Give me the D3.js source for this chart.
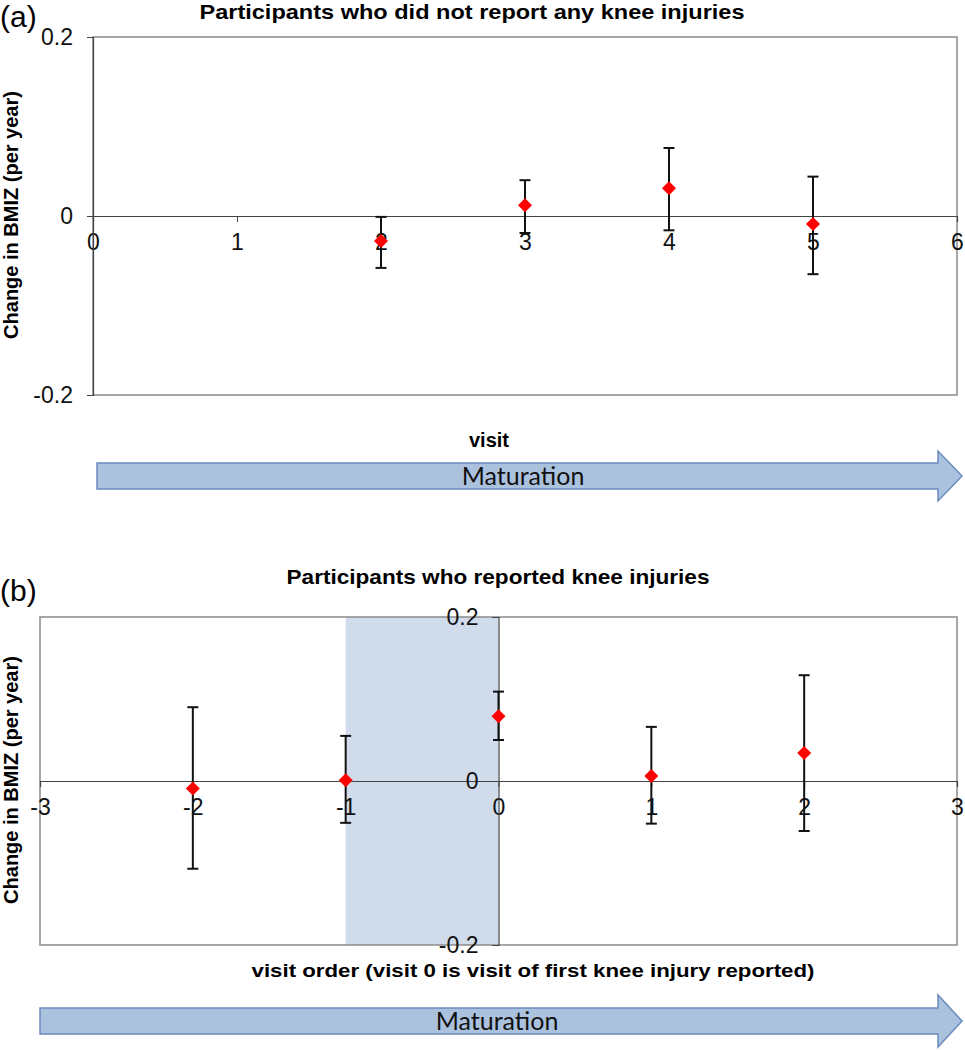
<!DOCTYPE html>
<html><head><meta charset="utf-8">
<script src="https://cdn.jsdelivr.net/npm/d3@7"></script>
<style>body{margin:0;background:#fff}svg{display:block}</style>
</head><body>
<svg id="c" width="965" height="1050"></svg>
<script>
// Panel (a) data
const visitsA = [2, 3, 4, 5];
const meanA   = [-0.028, 0.012, 0.031, -0.009];
const lowA    = [-0.058, -0.019, -0.016, -0.065];
const highA   = [-0.001, 0.040, 0.076, 0.044];
const xTicksA = [0, 1, 2, 3, 4, 5, 6];
const yTicksA = [-0.2, 0, 0.2];
// Panel (b) data
const visitsB = [-2, -1, 0, 1, 2];
const meanB   = [-0.009, 0.001, 0.079, 0.006, 0.034];
const lowB    = [-0.107, -0.051, 0.050, -0.052, -0.061];
const highB   = [0.090, 0.055, 0.109, 0.066, 0.129];
const xTicksB = [-3, -2, -1, 0, 1, 2, 3];
const yTicksB = [-0.2, 0, 0.2];
const shadeB  = [-1, 0];

const svg = d3.select("#c");
const F = "'Liberation Sans', Arial, sans-serif";
const hy = s => s.replace("\u2212", "-");
const fmtY = d => d === 0 ? "0" : hy(d3.format(".1f")(d));
const fmtX = d => hy(d3.format("d")(d));

function panel(o) {
  const g = svg.append("g");
  const x = d3.scaleLinear().domain(o.xDomain).range([o.left, o.right]);
  const y = d3.scaleLinear().domain([-0.2, 0.2]).range([o.bottom, o.top]);
  if (o.shade) {
    g.append("rect").attr("x", x(o.shade[0])).attr("y", o.top)
      .attr("width", x(o.shade[1]) - x(o.shade[0])).attr("height", o.bottom - o.top)
      .attr("fill", "#d0dcec");
  }
  // box
  g.append("rect").attr("x", o.left).attr("y", o.top)
    .attr("width", o.right - o.left).attr("height", o.bottom - o.top)
    .attr("fill", "none").attr("stroke", "#8a8a8a").attr("stroke-width", 1.5);
  // x axis at y=0
  const xa = g.append("g").attr("transform", `translate(0,${y(0)})`)
    .call(d3.axisBottom(x).tickValues(o.xTicks).tickSize(6).tickPadding(12).tickFormat(fmtX));
  xa.select(".domain").attr("stroke", "#444").attr("stroke-width", 1.2);
  xa.selectAll(".tick line").attr("stroke", "#444");
  xa.selectAll("text").attr("font-family", F).attr("font-size", 23).attr("fill", "#111");
  // y axis at x=0
  const ya = g.append("g").attr("transform", `translate(${x(0)},0)`)
    .call(d3.axisLeft(y).tickValues(o.yTicks).tickSize(6).tickPadding(14).tickFormat(fmtY));
  ya.select(".domain").attr("stroke", "#444").attr("stroke-width", 1.2);
  ya.selectAll(".tick line").attr("stroke", "#444");
  ya.selectAll("text").attr("font-family", F).attr("font-size", 23).attr("fill", "#111");
  // error bars
  const eb = g.append("g");
  o.xs.forEach((v, i) => {
    const cx = x(v);
    eb.append("line").attr("x1", cx).attr("x2", cx).attr("y1", y(o.lo[i])).attr("y2", y(o.hi[i]))
      .attr("stroke", "#111").attr("stroke-width", 2);
    [o.lo[i], o.hi[i]].forEach(e => {
      eb.append("line").attr("x1", cx - 5.5).attr("x2", cx + 5.5).attr("y1", y(e)).attr("y2", y(e))
        .attr("stroke", "#111").attr("stroke-width", 2);
    });
  });
  // diamonds
  const r = 7;
  g.append("g").selectAll("path").data(o.xs).join("path")
    .attr("d", (v, i) => { const cx = x(v), cy = y(o.m[i]);
      return `M${cx},${cy - r}L${cx + r},${cy}L${cx},${cy + r}L${cx - r},${cy}Z`; })
    .attr("fill", "#ff0000");
  // title
  g.append("text").attr("x", o.titleX).attr("y", o.titleY).attr("text-anchor", "middle")
    .attr("font-family", F).attr("font-weight", "bold").attr("font-size", 21)
    .attr("textLength", o.titleLen).attr("lengthAdjust", "spacingAndGlyphs").text(o.title);
  // panel label
  g.append("text").attr("x", 0).attr("y", o.labelY).attr("font-family", F)
    .attr("font-size", 30).text(o.label);
  // y title
  g.append("text").attr("transform", `translate(18,${o.yTitleY}) rotate(-90)`)
    .attr("text-anchor", "middle").attr("font-family", F).attr("font-weight", "bold")
    .attr("font-size", 20).text("Change in BMIZ (per year)");
  // x title
  g.append("text").attr("x", o.xTitleX).attr("y", o.xTitleY).attr("text-anchor", "middle")
    .attr("font-family", F).attr("font-weight", "bold").attr("font-size", o.xTitleSize)
    .attr("textLength", o.xTitleLen).attr("lengthAdjust", "spacingAndGlyphs").text(o.xTitle);
  // arrow
  const a = o.arrow;
  const p = d3.path();
  p.moveTo(a.x0, a.cy - a.bh); p.lineTo(a.hx, a.cy - a.bh); p.lineTo(a.hx, a.cy - a.hh);
  p.lineTo(a.tip, a.cy); p.lineTo(a.hx, a.cy + a.hh); p.lineTo(a.hx, a.cy + a.bh);
  p.lineTo(a.x0, a.cy + a.bh); p.closePath();
  g.append("path").attr("d", p.toString()).attr("fill", "#abc2df").attr("stroke", "#6b8bbd").attr("stroke-width", 1.5);
  g.append("text").attr("x", a.tx).attr("y", a.cy + 9).attr("text-anchor", "middle")
    .attr("font-family", "Lato, 'Open Sans', sans-serif").attr("font-size", 25).attr("fill", "#111").text("Maturation");
}

panel({
  xDomain: [0, 6], left: 93, right: 957, top: 37, bottom: 395,
  xTicks: xTicksA, yTicks: yTicksA,
  xs: visitsA, m: meanA, lo: lowA, hi: highA,
  title: "Participants who did not report any knee injuries", titleX: 472, titleY: 19, titleLen: 545,
  label: "(a)", labelY: 27, yTitleY: 215,
  xTitle: "visit", xTitleX: 489, xTitleY: 447, xTitleSize: 20, xTitleLen: 40,
  arrow: {x0: 97, hx: 938, tip: 962, cy: 476, bh: 13, hh: 25, tx: 523}
});
panel({
  xDomain: [-3, 3], left: 40, right: 957, top: 617, bottom: 945,
  xTicks: xTicksB, yTicks: yTicksB, shade: shadeB,
  xs: visitsB, m: meanB, lo: lowB, hi: highB,
  title: "Participants who reported knee injuries", titleX: 498, titleY: 584, titleLen: 423,
  label: "(b)", labelY: 601, yTitleY: 780,
  xTitle: "visit order (visit 0 is visit of first knee injury reported)", xTitleX: 533, xTitleY: 977, xTitleSize: 18, xTitleLen: 563,
  arrow: {x0: 40, hx: 938, tip: 962, cy: 1021, bh: 13, hh: 26, tx: 497}
});
</script>
</body></html>
